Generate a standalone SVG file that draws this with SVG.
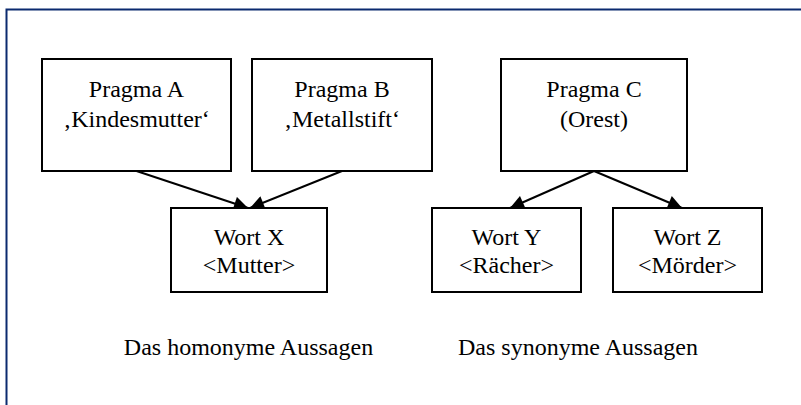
<svg xmlns="http://www.w3.org/2000/svg" width="801" height="405" viewBox="0 0 801 405">
  <style>
    .box { fill: #ffffff; stroke: #000000; stroke-width: 2; }
    .edge { stroke: #000000; stroke-width: 2; fill: none; marker-end: url(#arrow); }
  </style>
  <defs>
    <marker id="arrow" viewBox="0 0 10 10" refX="10" refY="5" markerWidth="8" markerHeight="7" markerUnits="strokeWidth" orient="auto">
      <path d="M0,0 L10,5 L0,10 Z" fill="#000000"/>
    </marker>
  </defs>
  <rect x="0" y="0" width="801" height="405" fill="#ffffff"/>
  <!-- outer frame -->
  <rect x="6.5" y="9.5" width="820" height="420" fill="none" stroke="#0b2a6f" stroke-width="2"/>

  <g id="connectors">
    <line class="edge" x1="136.5" y1="171" x2="248" y2="208"/>
    <line class="edge" x1="342" y1="171" x2="250" y2="208"/>
    <line class="edge" x1="594" y1="171" x2="510" y2="208"/>
    <line class="edge" x1="594" y1="171" x2="682" y2="208"/>
  </g>

  <g font-family="'Liberation Serif', 'DejaVu Serif', 'Times New Roman', serif" font-size="24" fill="#000000" text-anchor="middle">
    <g id="pragma-a">
      <rect class="box" x="42" y="59" width="189" height="112"/>
      <text x="136.5" y="96.5">Pragma A</text>
      <text x="136.5" y="126.5">‚Kindesmutter‘</text>
    </g>
    <g id="pragma-b">
      <rect class="box" x="252" y="59" width="180" height="112"/>
      <text x="342" y="96.5">Pragma B</text>
      <text x="342" y="126.5">‚Metallstift‘</text>
    </g>
    <g id="pragma-c">
      <rect class="box" x="501" y="59" width="186" height="112"/>
      <text x="594" y="96.5">Pragma C</text>
      <text x="594" y="126.5">(Orest)</text>
    </g>
    <g id="wort-x">
      <rect class="box" x="171" y="208" width="156" height="84"/>
      <text x="249" y="245">Wort X</text>
      <text x="249" y="273">&lt;Mutter&gt;</text>
    </g>
    <g id="wort-y">
      <rect class="box" x="432" y="208" width="149" height="84"/>
      <text x="506.5" y="245">Wort Y</text>
      <text x="506.5" y="273">&lt;Rächer&gt;</text>
    </g>
    <g id="wort-z">
      <rect class="box" x="613" y="208" width="149" height="84"/>
      <text x="687.5" y="245">Wort Z</text>
      <text x="687.5" y="273">&lt;Mörder&gt;</text>
    </g>

    <g id="captions">
      <text x="248.5" y="355">Das homonyme Aussagen</text>
      <text x="578" y="355">Das synonyme Aussagen</text>
    </g>
  </g>
</svg>
